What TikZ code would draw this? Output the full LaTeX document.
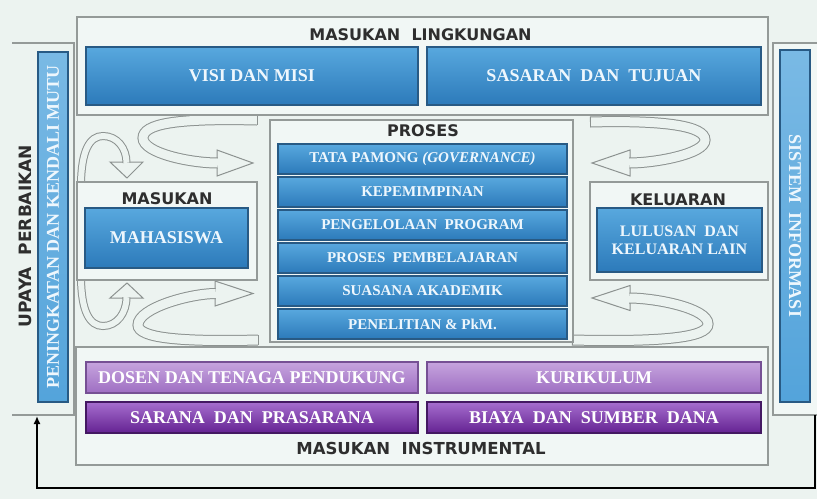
\documentclass[tikz,border=0pt]{standalone}
\usepackage{fontspec}
\setmainfont{Liberation Serif}
\newfontfamily\ttlfont{DejaVu Sans}
\usetikzlibrary{arrows.meta}

\definecolor{bgc}{RGB}{236,243,240}
\definecolor{framefill}{RGB}{241,247,245}
\definecolor{framedraw}{RGB}{148,154,152}
\definecolor{bluetop}{RGB}{88,168,222}
\definecolor{bluebot}{RGB}{44,122,186}
\definecolor{blueedge}{RGB}{40,90,132}
\definecolor{boxtext}{RGB}{238,247,253}
\definecolor{lpurtop}{RGB}{198,164,222}
\definecolor{lpurbot}{RGB}{158,110,194}
\definecolor{lpuredge}{RGB}{118,80,148}
\definecolor{dpurtop}{RGB}{166,110,206}
\definecolor{dpurbot}{RGB}{100,34,146}
\definecolor{dpuredge}{RGB}{68,24,98}
\definecolor{ttl}{RGB}{46,46,46}
\definecolor{arrowc}{RGB}{140,146,144}

\tikzset{
  grpframe/.style={draw=framedraw, line width=1.8pt, fill=framefill, inner sep=0pt, outer sep=0pt},
  bluebox/.style={draw=blueedge, line width=1.2pt, top color=bluetop, bottom color=bluebot,
    text=boxtext, font=\bfseries\fontsize{18}{20}\selectfont, align=center, inner sep=0pt, outer sep=0pt},
  barbox/.style={bluebox, font=\bfseries\fontsize{15}{17}\selectfont},
  vbar/.style={draw=blueedge, line width=1.2pt, top color=bluetop!80!white, bottom color=bluetop!90!bluebot,
    text=boxtext, font=\bfseries\fontsize{18}{20}\selectfont, inner sep=0pt, outer sep=0pt},
  lpur/.style={draw=lpuredge, line width=1.2pt, top color=lpurtop, bottom color=lpurbot,
    text=white, font=\bfseries\fontsize{18}{20}\selectfont, inner sep=0pt, outer sep=0pt},
  dpur/.style={draw=dpuredge, line width=1.2pt, top color=dpurtop, bottom color=dpurbot,
    text=white, font=\bfseries\fontsize{18}{20}\selectfont, inner sep=0pt, outer sep=0pt},
  ttlnode/.style={text=ttl, font=\ttlfont\bfseries\fontsize{16}{18}\selectfont, inner sep=0pt},
  bigarrow/.style={draw=arrowc, line width=1pt, double=bgc, double distance=9pt},
  smallarrow/.style={draw=arrowc, line width=1pt, double=bgc, double distance=6pt},
  ahead/.style={draw=arrowc, line width=1pt, fill=bgc, line join=miter},
  tailcap/.style={draw=arrowc, line width=1pt},
  feedback/.style={draw=black, line width=1.6pt, -{Latex[length=8pt,width=7pt]}},
}

\begin{document}
\begin{tikzpicture}[x=1pt,y=-1pt]
\useasboundingbox (0,0) rectangle (817,499);
\clip (0,0) rectangle (817,499);
\fill[bgc] (0,0) rectangle (817,499);

% ---- curved hollow arrows (drawn first, frames cover their tails)
% top-left loop
\coordinate (a2tail) at (257,120);
\coordinate (a2tip) at (253,163);
\draw[ahead] (217,150) -- (a2tip) -- (217,176) -- cycle;
\draw[bigarrow] (a2tail) .. controls (175,118) and (143,124) .. (143,138)
  .. controls (143,153) and (190,163) .. (217.8,163);
\draw[tailcap] (257,115) -- (257,125);
% top-right loop
\coordinate (a3tail) at (590,122);
\coordinate (a3tip) at (592,163);
\draw[ahead] (630,150) -- (a3tip) -- (630,176) -- cycle;
\draw[bigarrow] (a3tail) .. controls (665,120) and (705,126) .. (705,140)
  .. controls (705,154) and (655,163) .. (629.2,163);
\draw[tailcap] (590,117) -- (590,127);
% bottom-left loop
\coordinate (a5tail) at (258,340);
\coordinate (a5tip) at (253,293.5);
\draw[ahead] (215,281) -- (a5tip) -- (215,306) -- cycle;
\draw[bigarrow] (a5tail) .. controls (180,342) and (138,338) .. (138,325)
  .. controls (138,308) and (190,293.5) .. (215.8,293.5);
\draw[tailcap] (258,335) -- (258,345);
% bottom-right loop
\coordinate (a6tail) at (572,340);
\coordinate (a6tip) at (592,298);
\draw[ahead] (630,285.5) -- (a6tip) -- (630,310.5) -- cycle;
\draw[bigarrow] (a6tail) .. controls (660,342) and (708,338) .. (708,324)
  .. controls (708,308) and (655,298) .. (629.2,298);
\draw[tailcap] (572,335) -- (572,345);
% small top-left arc
\coordinate (a1tail) at (81,186);
\coordinate (a1tip) at (127,178);
\draw[ahead] (110,162) -- (a1tip) -- (143,162) -- cycle;
\draw[smallarrow] (a1tail) .. controls (81,150) and (90,136) .. (103,136)
  .. controls (117,136) and (126.5,148) .. (126.5,162.8);
% small bottom-left arc
\coordinate (a4tail) at (81,276);
\coordinate (a4tip) at (127,283);
\draw[ahead] (110,298) -- (a4tip) -- (143,298) -- cycle;
\draw[smallarrow] (a4tail) .. controls (81,312) and (90,326) .. (103,326)
  .. controls (117,326) and (126.5,313) .. (126.5,297.2);

% ---- side frames
\node[inner sep=0pt, outer sep=0pt, minimum width=62pt, minimum height=372pt] (upframe) at (43,229) {};
\draw[framedraw, line width=1.8pt] (upframe.north west) -- (upframe.north east)
  -- (upframe.south east) -- (upframe.south west);
\node[vbar, rotate=90, minimum width=350pt, minimum height=30pt] (pkm) at (53,227)
  {PENINGKATAN DAN KENDALI MUTU};
\node[ttlnode, rotate=90, font=\ttlfont\bfseries\fontsize{17}{19}\selectfont] (upaya) at (25,236)
  {UPAYA\ \ PERBAIKAN};

\node[grpframe, minimum width=57pt, minimum height=372pt] (siframe) at (801.5,229) {};
\node[vbar, rotate=-90, minimum width=352pt, minimum height=30pt] (si) at (795,226)
  {SISTEM\ \ INFORMASI};

% ---- masukan lingkungan
\node[grpframe, minimum width=691pt, minimum height=98pt] (lingk) at (422.5,66) {};
\node[ttlnode] (lingkttl) at (420.5,35) {MASUKAN\ \ LINGKUNGAN};
\node[bluebox, minimum width=332pt, minimum height=58pt] (visi) at (252,76) {VISI DAN MISI};
\node[bluebox, minimum width=334pt, minimum height=58pt] (sasaran) at (594,76) {SASARAN\ \ DAN\ \ TUJUAN};

% ---- proses
\node[grpframe, minimum width=303pt, minimum height=222pt] (proses) at (421.5,231) {};
\node[ttlnode] (prosesttl) at (423,131) {PROSES};
\node[barbox, minimum width=289pt, minimum height=30pt] (p1) at (422.5,159) {TATA PAMONG \textit{(GOVERNANCE)}};
\node[barbox, minimum width=289pt, minimum height=30pt] (p2) at (422.5,192) {KEPEMIMPINAN};
\node[barbox, minimum width=289pt, minimum height=30pt] (p3) at (422.5,225) {PENGELOLAAN\ \ PROGRAM};
\node[barbox, minimum width=289pt, minimum height=30pt] (p4) at (422.5,258) {PROSES\ \ PEMBELAJARAN};
\node[barbox, minimum width=289pt, minimum height=30pt] (p5) at (422.5,291) {SUASANA AKADEMIK};
\node[barbox, minimum width=289pt, minimum height=30pt] (p6) at (422.5,324) {PENELITIAN \& PkM.};

% ---- masukan
\node[grpframe, minimum width=180pt, minimum height=98pt] (masukan) at (167,231) {};
\node[ttlnode] (masukanttl) at (167,199) {MASUKAN};
\node[bluebox, minimum width=163pt, minimum height=60pt] (mhs) at (166.5,238) {MAHASISWA};

% ---- keluaran
\node[grpframe, minimum width=178pt, minimum height=98pt] (keluaran) at (679,231) {};
\node[ttlnode] (keluaranttl) at (678,200) {KELUARAN};
\node[bluebox, minimum width=165pt, minimum height=64pt, font=\bfseries\fontsize{16}{18}\selectfont]
  (lulusan) at (679.5,240) {LULUSAN\ \ DAN\\KELUARAN LAIN};

% ---- masukan instrumental
\node[grpframe, minimum width=692pt, minimum height=118pt] (instr) at (422,406) {};
\node[ttlnode, font=\ttlfont\bfseries\fontsize{16.5}{18}\selectfont] (instrttl) at (421,448) {MASUKAN\ \ INSTRUMENTAL};
\node[lpur, minimum width=332pt, minimum height=31pt] (dosen) at (252,377.5) {DOSEN DAN TENAGA PENDUKUNG};
\node[lpur, minimum width=334pt, minimum height=31pt] (kur) at (594,377.5) {KURIKULUM};
\node[dpur, minimum width=332pt, minimum height=31pt] (sarana) at (252,417.5) {SARANA\ \ DAN\ \ PRASARANA};
\node[dpur, minimum width=334pt, minimum height=31pt] (biaya) at (594,417.5) {BIAYA\ \ DAN\ \ SUMBER\ \ DANA};

% ---- feedback loop
\coordinate (fbA) at (815,415);
\coordinate (fbB) at (37,416);
\draw[feedback] (fbA) -- ++(0,73) -| (fbB);
\end{tikzpicture}
\end{document}
